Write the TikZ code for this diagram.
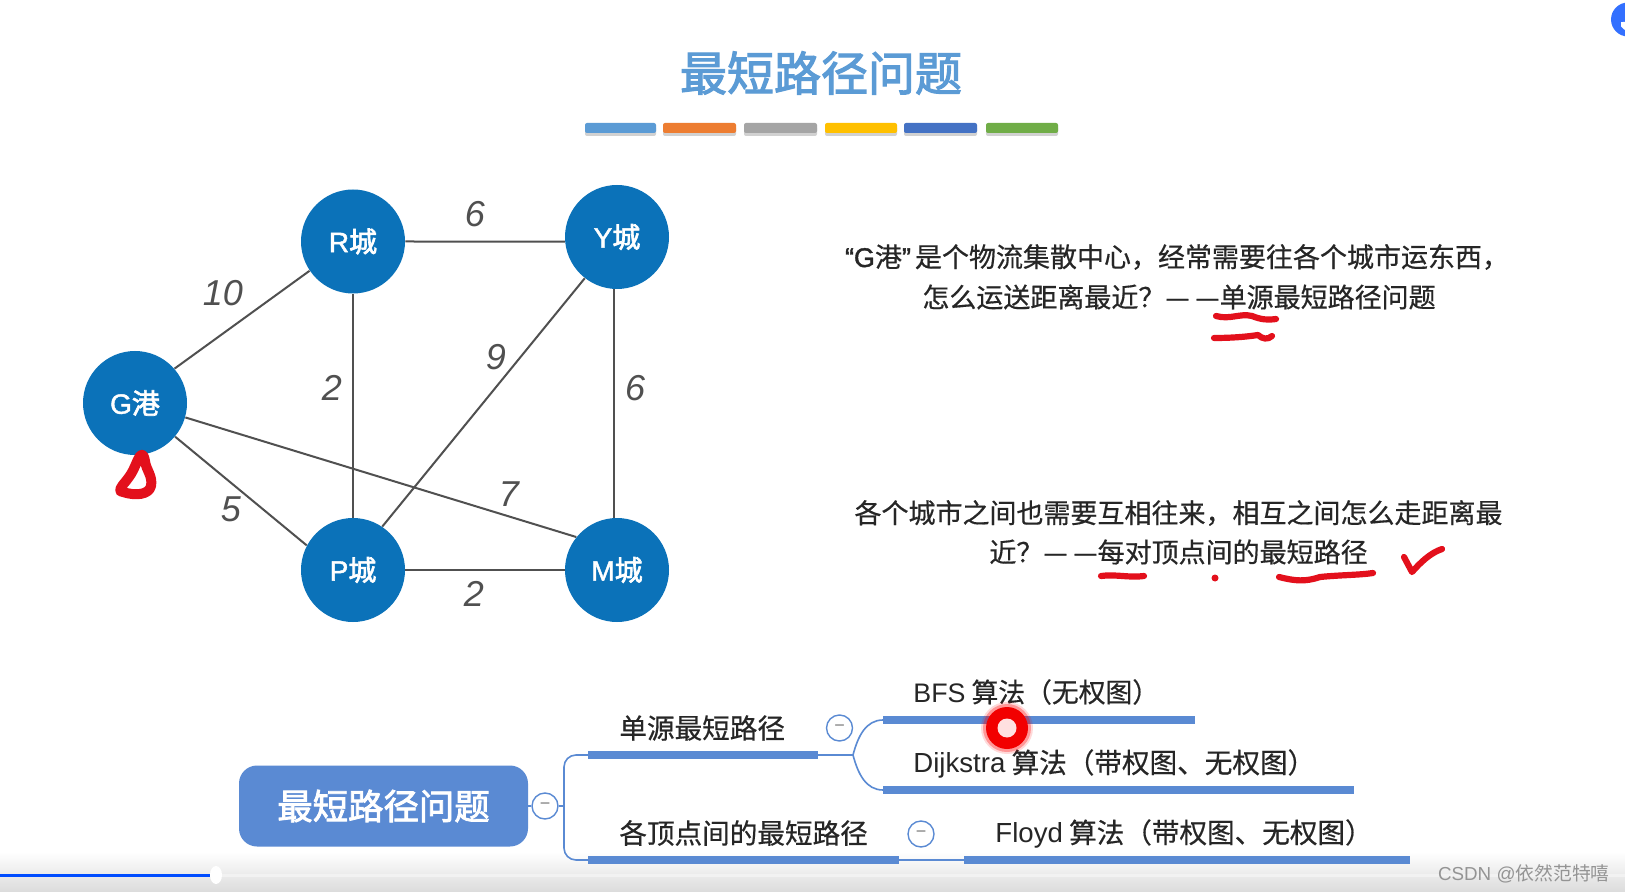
\documentclass[tikz,border=0pt]{standalone}
\usepackage{fontspec}
\usetikzlibrary{shapes.geometric}
\setmainfont{Noto Sans CJK SC}
\newfontfamily\lat{Liberation Sans}
\newfontfamily\latmed[FakeBold=1.5]{Liberation Sans}
\newfontfamily\cjkmed[FakeBold=0.5]{Noto Sans CJK SC}
\newfontfamily\cjkheavy[FakeBold=2.4]{Noto Sans CJK SC}
\definecolor{nodeblue}{HTML}{0B72B9}
\definecolor{mapblue}{HTML}{5A8AD3}
\definecolor{titleblue}{HTML}{5B9BD5}
\definecolor{edgegray}{HTML}{505050}
\definecolor{txt}{HTML}{262626}
\definecolor{pen}{HTML}{E3101C}
\tikzset{
  city/.style={circle,fill=nodeblue,minimum size=52pt,inner sep=0pt,text=white,font=\fontsize{14}{16}\selectfont\cjkheavy},
  edgeline/.style={draw=edgegray,line width=1pt},
  weight/.style={text=edgegray,inner sep=0pt,font=\fontsize{18}{20}\selectfont\lat\itshape},
  para/.style={text=txt,inner sep=0pt,font=\fontsize{13.5}{16}\selectfont\cjkmed},
  maptext/.style={text=txt,inner sep=0pt,anchor=west,font=\fontsize{13.8}{16}\selectfont\cjkmed},
  bar/.style={fill=mapblue,minimum height=4pt,inner sep=0pt,outer sep=0pt,anchor=west},
  toggle/.style={circle,draw=mapblue,line width=0.7pt,fill=white,minimum size=13pt,inner sep=0pt,text=gray,font=\fontsize{9}{9}\selectfont\lat},
  conn/.style={draw=mapblue,line width=0.8pt},
  penline/.style={draw=pen,line width=3.1pt,line cap=round,line join=round},
}
\begin{document}
\begin{tikzpicture}[x=0.5pt,y=-0.5pt]
\useasboundingbox (0,0) rectangle (1625,892);
\fill[white] (0,0) rectangle (1625,892);
% bottom band of the player
\shade[top color=white,bottom color=black!14] (0,852) rectangle (1625,892);
\fill[black!5] (216,873.5) rectangle (1625,876.5);
\fill[blue!70!cyan] (0,873.5) rectangle (212,876.5);
\node[ellipse,fill=white,minimum width=6pt,minimum height=9pt,inner sep=0pt] (knob) at (216,875) {};
% corner icon
\begin{scope}
\clip (1600,0) rectangle (1625,60);
\fill[blue!70!cyan!80!white] (1628,19.5) circle[radius=17];
\draw[white,line width=2pt] (1623,22) arc[start angle=200,end angle=110,radius=5];
\end{scope}
% title
\node[text=titleblue,inner sep=0pt,font=\fontsize{23.5}{26}\selectfont\cjkheavy] (title) at (821,73) {最短路径问题};
\foreach \a/\b/\c in {585/656/5B9BD5,663/736/ED7D31,744/817/A5A5A5,825/897/FFC000,904/977/4472C4,986/1058/70AD47}{
  \definecolor{stripecol}{HTML}{\c}
  \fill[black,opacity=.18,rounded corners=1pt] (\a,126) rectangle (\b,136);
  \fill[stripecol,rounded corners=1pt] (\a,123) rectangle (\b,133);
}
% graph
\node[city] (G) at (135,403) {{\latmed G}港};
\node[city] (R) at (353,241.5) {{\latmed R}城};
\node[city] (Y) at (617,237) {{\latmed Y}城};
\node[city] (P) at (353,570) {{\latmed P}城};
\node[city] (M) at (617,570) {{\latmed M}城};
\draw[edgeline] (G.41) -- (R.214);
\draw[edgeline] (G.-40) -- (P.152);
\draw[edgeline] (G.-16) -- (M.141);
\draw[edgeline] (R.east) -- (Y.185);
\draw[edgeline] (R) -- (P);
\draw[edgeline] (Y.232) -- (P.56);
\draw[edgeline] (Y.-93) -- (M.93);
\draw[edgeline] (P) -- (M);
\node[weight] (w1) at (223,293) {10};
\node[weight] (w2) at (475,214.5) {6};
\node[weight] (w3) at (332,388) {2};
\node[weight] (w4) at (496,357.5) {9};
\node[weight] (w5) at (635,388) {6};
\node[weight] (w6) at (231,509) {5};
\node[weight] (w7) at (509,494) {7};
\node[weight] (w8) at (474,594) {2};
% red pen on the graph
\draw[penline,line width=5pt] (140,456) .. controls (135,464) and (135,470) .. (126,481) .. controls (120,488) and (118,492) .. (123,492) .. controls (135,496) and (149,495) .. (151,486) .. controls (153,476) and (146,470) .. (145,461) .. controls (144,456) and (143,453) .. (140,456) -- cycle;
% paragraphs
\node[para] (p1) at (1177,257) {{\latmed “G}港{\latmed ”}\kern2pt 是个物流集散中心，经常需要往各个城市运东西，};
\node[para] (p2) at (1179,297) {怎么运送距离最近？—\kern3pt—单源最短路径问题};
\node[para] (p3) at (1178.5,513) {各个城市之间也需要互相往来，相互之间怎么走距离最};
\node[para] (p4) at (1178.5,552) {近？—\kern3pt—每对顶点间的最短路径};
% red pen on the text
\draw[penline] (1216,316) .. controls (1230,320) and (1240,313) .. (1252,316) .. controls (1262,320) and (1268,320) .. (1276,319);
\draw[penline] (1214,338) .. controls (1230,338) and (1245,337) .. (1258,335) .. controls (1262,339) and (1268,340) .. (1272,336);
\draw[penline] (1101,576) .. controls (1115,574) and (1130,578) .. (1144,576);
\fill[pen] (1215,578) circle[radius=3.5];
\draw[penline] (1279,577) .. controls (1295,581) and (1305,582) .. (1320,577) .. controls (1340,575) and (1360,575) .. (1373,573);
\draw[penline] (1404,557) -- (1412,572) .. controls (1420,563) and (1430,553) .. (1442,549);
% mind map
\node[fill=mapblue,rounded corners=9pt,minimum width=144.5pt,minimum height=40.5pt,inner sep=0pt,text=white,font=\fontsize{17.7}{20}\selectfont\cjkheavy] (root) at (383.5,806) {最短路径问题};
\node[toggle] (t0) at (545,806) {−};
\coordinate (tr) at (564,806);
\node[bar,minimum width=115pt] (b1) at (588,755) {};
\node[bar,minimum width=155.5pt] (b2) at (588,860) {};
\node[bar,minimum width=156pt] (b3) at (883,720) {};
\node[bar,minimum width=235.5pt] (b4) at (883,790) {};
\node[bar,minimum width=223pt] (b5) at (964,860) {};
\coordinate (j) at (853,755);
\draw[conn] (root.east) -- (t0.west);
\draw[conn] (t0.east) -- (tr);
\draw[conn,rounded corners=6pt] (b1.west) -| (tr) |- (b2.west);
\draw[conn] (b1.east) -- (j);
\draw[conn] (j) .. controls (858,736) and (866,720) .. (b3.west);
\draw[conn] (j) .. controls (858,774) and (866,790) .. (b4.west);
\draw[conn] (b2.east) -- (b5.west);
\node[toggle] (t1) at (839.5,728) {−};
\node[toggle] (t2) at (921,834) {−};
\node[maptext] (m1) at (619,728) {单源最短路径};
\node[maptext] (m2) at (619,833) {各顶点间的最短路径};
\node[maptext,font=\fontsize{13.4}{16}\selectfont\cjkmed] (m3) at (913,692) {{\lat BFS} 算法（无权图）};
\node[maptext] (m4) at (913,764) {{\lat Dijkstra} 算法（带权图、无权图）};
\node[maptext] (m5) at (995,834) {{\lat Floyd} 算法（带权图、无权图）};
% pointer
\fill[red,opacity=.15] (1007,728) circle[radius=26];
\fill[red,opacity=.3] (1007,728) circle[radius=24];
\fill[red!95!black] (1007,728) circle[radius=21];
\fill[red!12] (1007,728) circle[radius=9.5];
% watermark
\node[text=black!42,inner sep=0pt,anchor=east,font=\fontsize{9.4}{12}\selectfont] (wm) at (1610,874) {{\lat CSDN @}依然范特嘻};
\end{tikzpicture}
\end{document}
